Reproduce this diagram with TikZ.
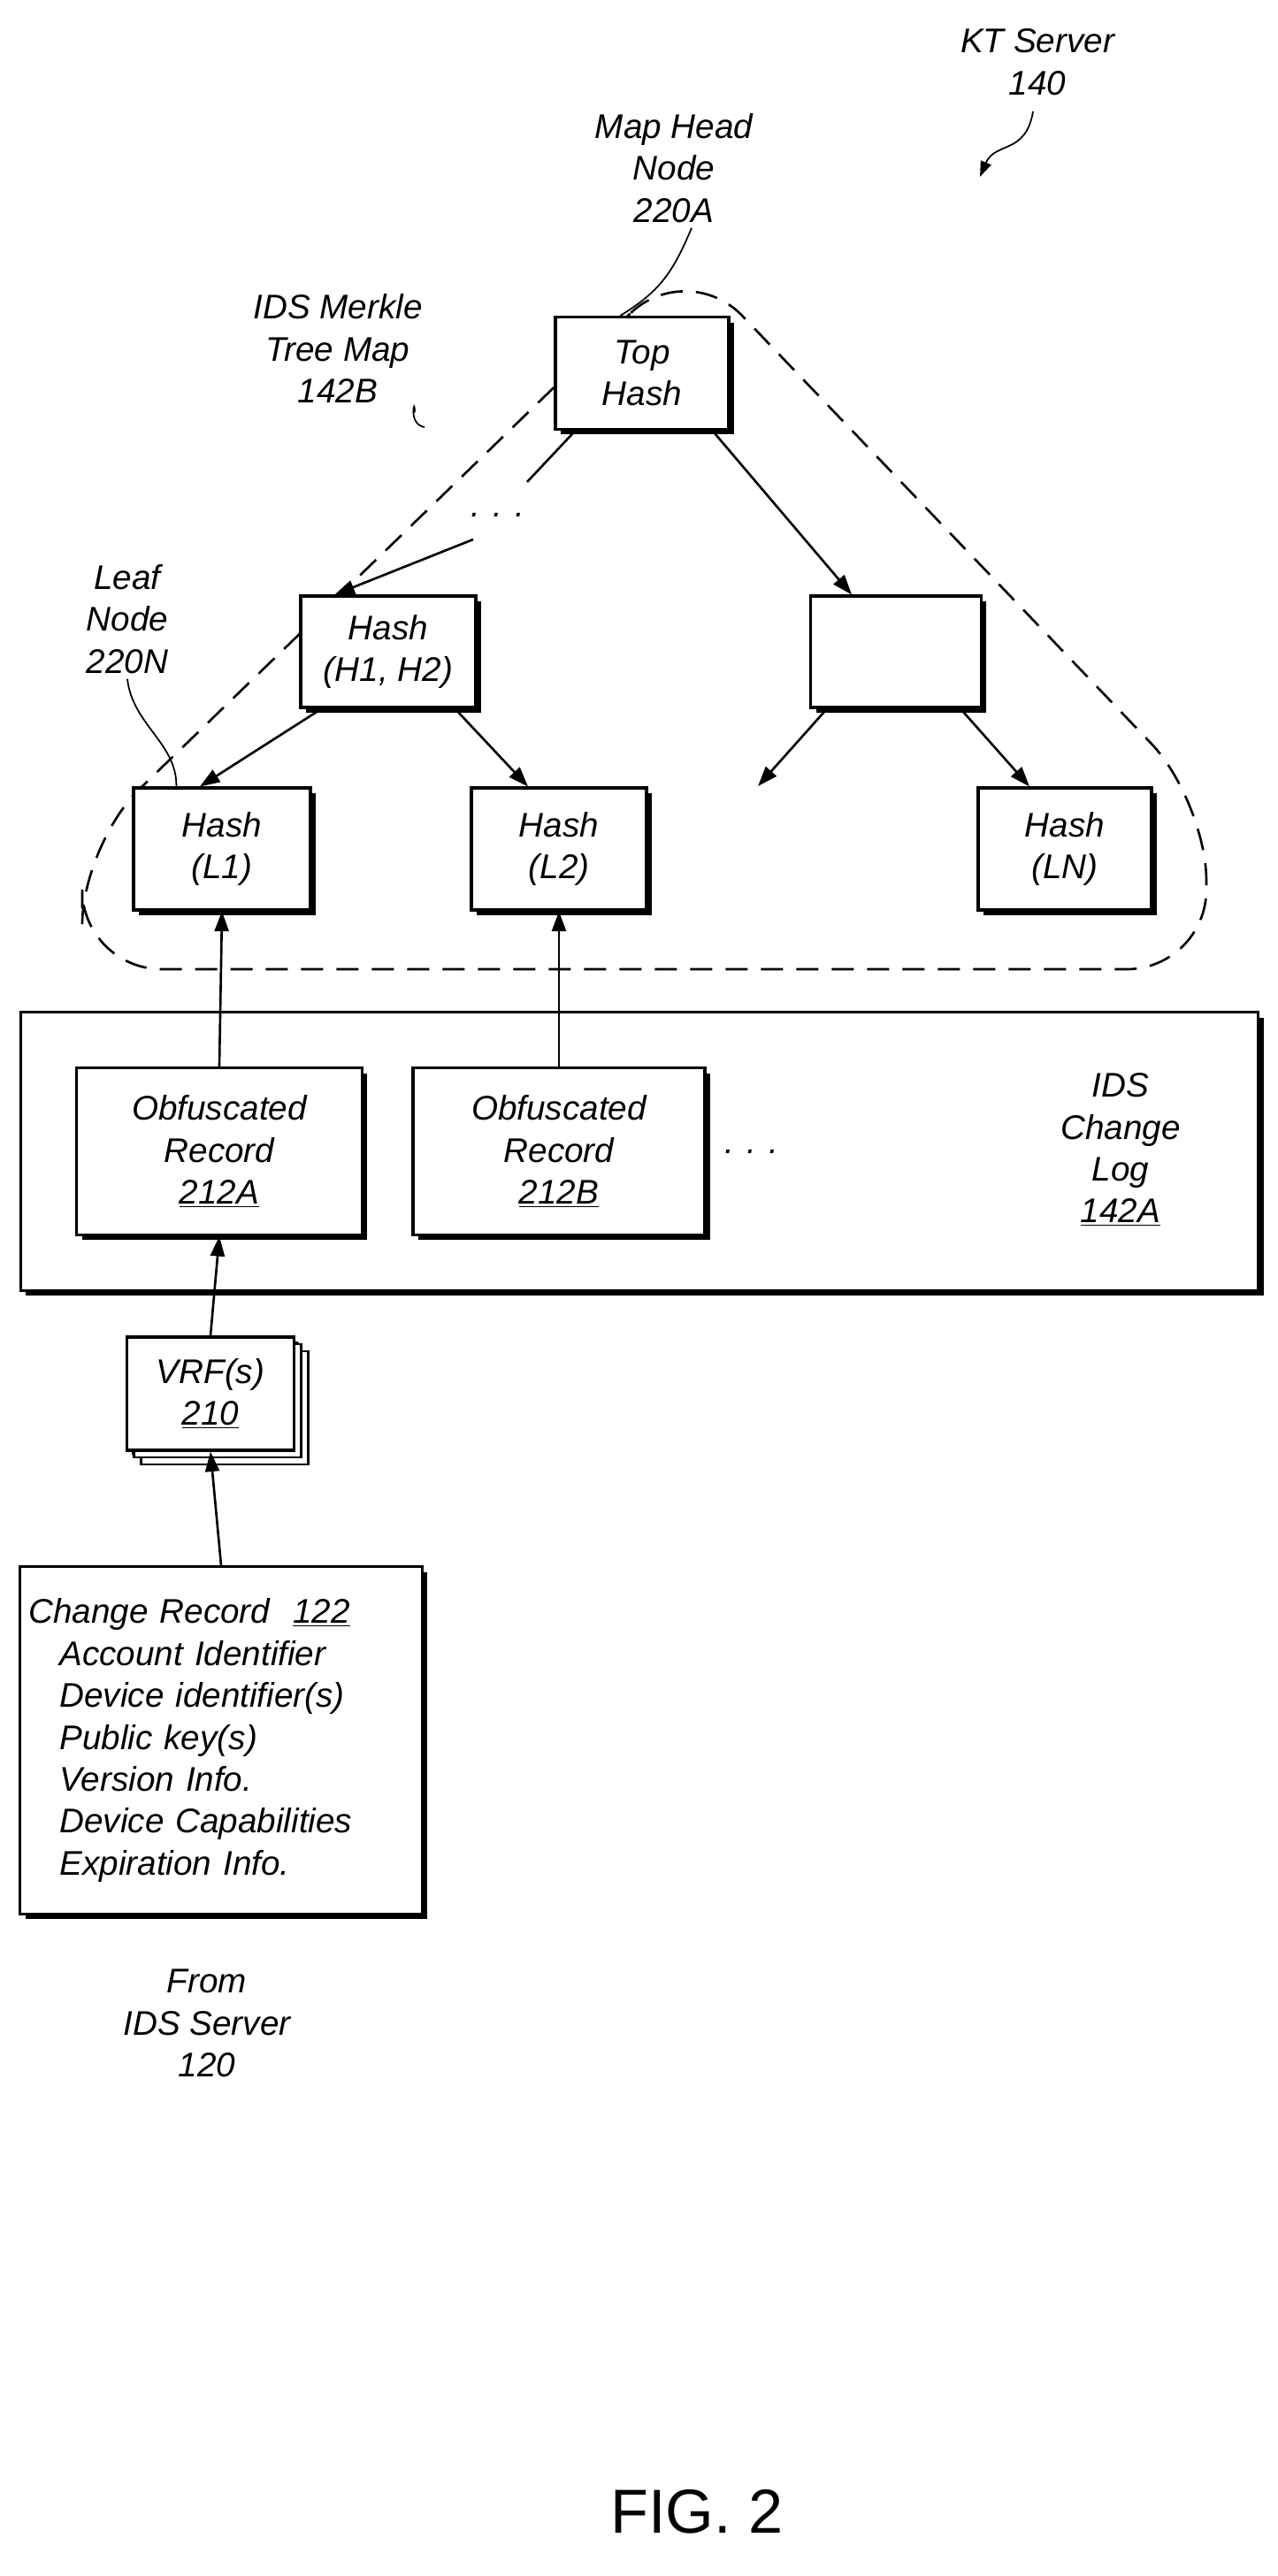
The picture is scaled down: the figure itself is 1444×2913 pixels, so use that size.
\documentclass[tikz,border=0pt]{standalone}
\usepackage{fontspec}
\setmainfont{Liberation Sans}
\usetikzlibrary{arrows.meta,shadows,positioning}
\tikzset{
  box/.style={draw, line width=1.8pt, fill=white, align=center, inner sep=2pt,
    font=\fontsize{22}{27}\selectfont\itshape,
    drop shadow={fill=black, opacity=1, shadow xshift=0.12cm, shadow yshift=-0.12cm}},
  lbl/.style={align=center, font=\fontsize{22}{27}\selectfont\itshape},
  arr/.style={line width=1.5pt, -{Triangle[length=0.45cm, width=0.32cm]}},
  ldr/.style={line width=1pt}
}

\begin{document}
\begin{tikzpicture}[x=0.02cm, y=-0.02cm]
  \useasboundingbox (0,0) rectangle (1444,2913);
  % Merkle tree region
  \draw[line width=1.5pt, dash pattern=on 0.5cm off 0.3cm, rounded corners=1.8cm]
    (777,292) -- (93,955) -- (93,1096) -- (1364,1096) -- (1364,906) -- cycle;
  % tree nodes
  \node[box, minimum width=3.92cm, minimum height=2.54cm] (top) at (726,422) {Top\\Hash};
  \node[box, minimum width=3.96cm, minimum height=2.52cm] (h12) at (439,737) {Hash\\(H1, H2)};
  \node[box, minimum width=3.86cm, minimum height=2.52cm] (emp) at (1013,737) {};
  \node[box, minimum width=4.0cm, minimum height=2.76cm] (l1) at (251,960) {Hash\\(L1)};
  \node[box, minimum width=3.96cm, minimum height=2.76cm] (l2) at (632,960) {Hash\\(L2)};
  \node[box, minimum width=3.92cm, minimum height=2.76cm] (ln) at (1204,960) {Hash\\(LN)};
  \node[lbl] (dots1) at (563,582) {. . .};
  \coordinate (d1a) at (596,545);
  \coordinate (d1b) at (535,610);
  \coordinate (free) at (857,889);
  \draw[line width=1.5pt] (top.south west) ++(24,0) -- (d1a);
  \draw[arr] (d1b) -- ([xshift=0.8cm]h12.north west);
  \draw[arr] ([xshift=-0.4cm]top.south east) -- ([xshift=-1.0cm]emp.north);
  \draw[arr] ([xshift=0.5cm]h12.south west) -- ([xshift=-0.5cm]l1.north);
  \draw[arr] ([xshift=-0.5cm]h12.south east) -- ([xshift=-0.7cm]l2.north);
  \draw[arr] ([xshift=0.4cm]emp.south west) -- (free);
  \draw[arr] ([xshift=-0.5cm]emp.south east) -- ([xshift=-0.8cm]ln.north);
  % change log
  \node[box, minimum width=28cm, minimum height=6.3cm] (log) at (723,1302) {};
  \node[box, minimum width=6.46cm, minimum height=3.78cm] (oa) at (248,1302) {Obfuscated\\Record\\\underline{212A}};
  \node[box, minimum width=6.6cm, minimum height=3.78cm] (ob) at (632,1302) {Obfuscated\\Record\\\underline{212B}};
  \node[lbl] (dots2) at (850,1302) {. . .};
  \node[lbl] (loglbl) at (1267,1300) {IDS\\Change\\Log\\\underline{142A}};
  \draw[arr] (oa.north) -- (l1.south);
  \draw[arr] (ob.north) -- (l2.south);
  % VRF and change record
  \node[box, drop shadow={fill=black, opacity=1, shadow xshift=0.1cm, shadow yshift=-0.1cm},
    double copy shadow={shadow xshift=0.16cm, shadow yshift=-0.16cm, draw, line width=1.5pt, fill=white},
    minimum width=3.78cm, minimum height=2.56cm] (vrf) at (238,1576) {VRF(s)\\\underline{210}};
  \node[box, minimum width=9.1cm, minimum height=7.86cm, text width=8.7cm, align=left] (rec) at (250,1968)
    {Change Record\ \ \underline{122}\\
     \hspace*{0.7cm}Account Identifier\\
     \hspace*{0.7cm}Device identifier(s)\\
     \hspace*{0.7cm}Public key(s)\\
     \hspace*{0.7cm}Version Info.\\
     \hspace*{0.7cm}Device Capabilities\\
     \hspace*{0.7cm}Expiration Info.};
  \draw[arr] (vrf.north) -- (oa.south);
  \draw[arr] (rec.north) -- (vrf.south);
  % labels
  \node[lbl] (src) at (234,2288) {From\\IDS Server\\120};
  \node[lbl] (kt) at (1173,70) {KT Server\\140};
  \coordinate (ktend) at (1108,200);
  \draw[ldr, -{Triangle[length=0.35cm, width=0.25cm]}] (1168,126) .. controls (1160,175) and (1125,160) .. (ktend);
  \node[lbl] (mhn) at (762,190) {Map Head\\Node\\220A};
  \draw[ldr] (mhn.south) ++(20,0) .. controls (760,310) and (745,330) .. ([xshift=1.5cm]top.north west);
  \node[lbl] (mtm) at (382,394) {IDS Merkle\\Tree Map\\142B};
  \coordinate (mtmend) at (480,483);
  \draw[ldr] (mtm.south east) ++(-15,5) .. controls (470,445) and (460,480) .. (mtmend);
  \node[lbl] (leaf) at (144,700) {Leaf\\Node\\220N};
  \draw[ldr] (leaf.south) .. controls (150,820) and (200,840) .. ([xshift=1.0cm]l1.north west);
  \node[font=\fontsize{40}{48}\selectfont] (fig) at (788,2840) {FIG. 2};
\end{tikzpicture}
\end{document}
